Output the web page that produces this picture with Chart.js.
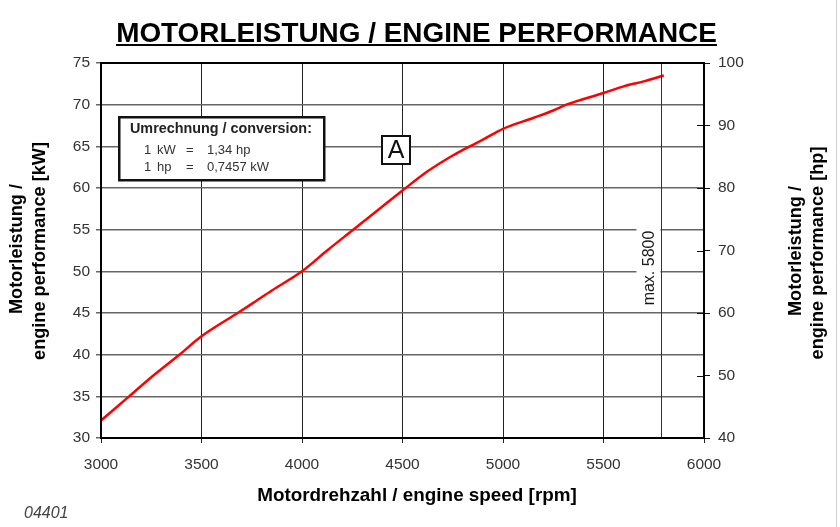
<!DOCTYPE html>
<html>
<head>
<meta charset="utf-8">
<script src="https://cdn.jsdelivr.net/npm/chart.js@4/dist/chart.umd.min.js"></script>
<style>
  html, body { margin: 0; padding: 0; background: #fff; }
  canvas { display: block; }
</style>
</head>
<body>
<canvas id="c" width="840" height="527"></canvas>
<script>
// ---- data ----
const rpm = [3000, 3140, 3250, 3390, 3500, 3680, 3750, 3850, 4000, 4125, 4250, 4375, 4500, 4625, 4750, 4835, 4900, 5000, 5150, 5250, 5315, 5500, 5600, 5700, 5800];
const powerKW = [32.1, 35.0, 37.3, 40.0, 42.2, 45.0, 46.1, 47.7, 50.0, 52.5, 54.9, 57.3, 59.7, 62.0, 63.9, 65.0, 65.8, 67.1, 68.4, 69.3, 70.0, 71.4, 72.2, 72.8, 73.5];
const xTicks = [3000, 3500, 4000, 4500, 5000, 5500, 6000];
const kwTicks = [30, 35, 40, 45, 50, 55, 60, 65, 70, 75];
const hpTicks = [40, 50, 60, 70, 80, 90, 100];
const maxRpmLine = 5785;
const maxRpmLabel = 'max. 5800';

const FONT = '"Liberation Sans", Arial, Helvetica, sans-serif';

const deco = {
  id: 'deco',
  beforeDraw(chart) {
    const ctx = chart.ctx;
    ctx.save();
    ctx.fillStyle = '#fff';
    ctx.fillRect(0, 0, chart.width, chart.height);
    ctx.restore();
  },
  afterDraw(chart) {
    const ctx = chart.ctx;
    const a = chart.chartArea;
    const xs = chart.scales.x;
    const y2 = chart.scales.y2;
    ctx.save();

    // max rpm vertical line
    const xm = Math.round(xs.getPixelForValue(maxRpmLine)) + 0.5;
    ctx.strokeStyle = '#333';
    ctx.lineWidth = 1;
    ctx.beginPath(); ctx.moveTo(xm, a.top); ctx.lineTo(xm, a.bottom); ctx.stroke();

    // white gap + rotated label
    ctx.fillStyle = '#fff';
    ctx.fillRect(xm - 25, 226, 24, 84);
    ctx.save();
    ctx.translate(xm - 12, 268);
    ctx.rotate(-Math.PI / 2);
    ctx.fillStyle = '#1a1a1a';
    ctx.font = '16px ' + FONT;
    ctx.textAlign = 'center';
    ctx.textBaseline = 'middle';
    ctx.fillText(maxRpmLabel, 0, 0);
    ctx.restore();

    // inner tick marks of right axis
    ctx.strokeStyle = '#111';
    ctx.lineWidth = 1;
    hpTicks.forEach(v => {
      const y = Math.round(y2.getPixelForValue(v)) + 0.5;
      ctx.beginPath(); ctx.moveTo(a.right - 7, y); ctx.lineTo(a.right, y); ctx.stroke();
    });

    // frame
    ctx.strokeStyle = '#000';
    ctx.lineWidth = 2;
    ctx.strokeRect(a.left, a.top, a.right - a.left, a.bottom - a.top);

    // conversion box
    ctx.fillStyle = '#fff';
    ctx.fillRect(119, 117, 205, 63);
    ctx.strokeStyle = '#111';
    ctx.lineWidth = 2.5;
    ctx.strokeRect(119.25, 117.25, 205, 63);
    ctx.fillStyle = '#222';
    ctx.textBaseline = 'alphabetic';
    ctx.textAlign = 'left';
    ctx.font = 'bold 13px ' + FONT;
    let w = ctx.measureText('Umrechnung / conversion:').width;
    let fs = 13 * 182 / w;
    ctx.font = 'bold ' + fs.toFixed(2) + 'px ' + FONT;
    ctx.fillText('Umrechnung / conversion:', 130, 133);
    ctx.fillStyle = '#333';
    ctx.font = '13px ' + FONT;
    ctx.fillText('1', 144, 154); ctx.fillText('kW', 157, 154); ctx.fillText('=', 186, 154); ctx.fillText('1,34 hp', 207, 154);
    ctx.fillText('1', 144, 171); ctx.fillText('hp', 157, 171); ctx.fillText('=', 186, 171); ctx.fillText('0,7457 kW', 207, 171);

    // "A" box
    ctx.fillStyle = '#fff';
    ctx.fillRect(382, 136, 28, 28);
    ctx.strokeStyle = '#111';
    ctx.lineWidth = 2;
    ctx.strokeRect(382, 136, 28, 28);
    ctx.fillStyle = '#111';
    ctx.font = '25px ' + FONT;
    ctx.textAlign = 'center';
    ctx.fillText('A', 396, 158);

    // main title
    ctx.fillStyle = '#000';
    ctx.font = 'bold 27px ' + FONT;
    const title = 'MOTORLEISTUNG / ENGINE PERFORMANCE';
    w = ctx.measureText(title).width;
    fs = 27 * 601 / w;
    ctx.font = 'bold ' + fs.toFixed(2) + 'px ' + FONT;
    ctx.textAlign = 'center';
    ctx.fillText(title, 416.5, 42);
    ctx.fillRect(116, 44, 601, 2);

    // x axis title
    ctx.font = 'bold 17px ' + FONT;
    const xt = 'Motordrehzahl / engine speed [rpm]';
    w = ctx.measureText(xt).width;
    fs = 17 * 320 / w;
    ctx.font = 'bold ' + fs.toFixed(2) + 'px ' + FONT;
    ctx.fillText(xt, 417, 501);

    // y titles (rotated), same size for both lines
    ctx.font = 'bold 17px ' + FONT;
    const yfs = 17 * 218 / ctx.measureText('engine performance [kW]').width;
    function vtext(x, y, txt) {
      ctx.save();
      ctx.translate(x, y);
      ctx.rotate(-Math.PI / 2);
      ctx.font = 'bold ' + yfs.toFixed(2) + 'px ' + FONT;
      ctx.textAlign = 'center';
      ctx.textBaseline = 'middle';
      ctx.fillText(txt, 0, 0);
      ctx.restore();
    }
    vtext(17, 249, 'Motorleistung /');
    vtext(40, 251, 'engine performance [kW]');
    vtext(796, 251, 'Motorleistung /');
    vtext(818, 253, 'engine performance [hp]');

    // figure number
    ctx.fillStyle = '#444';
    ctx.font = 'italic 16px ' + FONT;
    ctx.textAlign = 'left';
    ctx.fillText('04401', 24, 518);

    // page edge line
    ctx.strokeStyle = '#cfcfcf';
    ctx.lineWidth = 1;
    ctx.beginPath(); ctx.moveTo(836.5, 0); ctx.lineTo(836.5, chart.height); ctx.stroke();

    ctx.restore();
  }
};

new Chart(document.getElementById('c'), {
  type: 'line',
  data: {
    datasets: [{
      data: rpm.map((r, i) => ({ x: r, y: powerKW[i] })),
      borderColor: '#ff0000',
      borderWidth: 2.5,
      pointRadius: 0,
      tension: 0.35,
      cubicInterpolationMode: 'monotone',
      fill: false,
      yAxisID: 'y'
    }]
  },
  options: {
    responsive: false,
    animation: false,
    devicePixelRatio: 1,
    layout: { padding: { top: 63, left: 0, right: 0, bottom: 0 } },
    plugins: { legend: { display: false }, tooltip: { enabled: false }, title: { display: false } },
    scales: {
      x: {
        type: 'linear',
        min: 3000, max: 6000,
        afterBuildTicks: s => { s.ticks = xTicks.map(v => ({ value: v })); },
        afterFit: s => { s.height = 89; },
        grid: { color: '#222', lineWidth: 1, tickLength: 5, drawTicks: true },
        border: { color: '#000', width: 2 },
        ticks: { color: '#333', font: { family: FONT, size: 15.5 }, padding: 12, maxRotation: 0, callback: v => String(v) }
      },
      y: {
        type: 'linear', position: 'left',
        min: 30, max: 75,
        afterBuildTicks: s => { s.ticks = kwTicks.map(v => ({ value: v })); },
        afterFit: s => { s.width = 101; },
        grid: { color: '#666', lineWidth: 1.5, tickLength: 5, drawTicks: true },
        border: { color: '#000', width: 2 },
        ticks: { color: '#333', font: { family: FONT, size: 15.5 }, padding: 6, callback: v => String(v) }
      },
      y2: {
        type: 'linear', position: 'right',
        min: 40, max: 100,
        afterBuildTicks: s => { s.ticks = hpTicks.map(v => ({ value: v })); },
        afterFit: s => { s.width = 136; },
        grid: { drawOnChartArea: false, color: '#111', lineWidth: 1, tickLength: 6, drawTicks: true },
        border: { color: '#000', width: 2 },
        ticks: { color: '#333', font: { family: FONT, size: 15.5 }, padding: 8, callback: v => String(v) }
      }
    }
  },
  plugins: [deco]
});
</script>
</body>
</html>
